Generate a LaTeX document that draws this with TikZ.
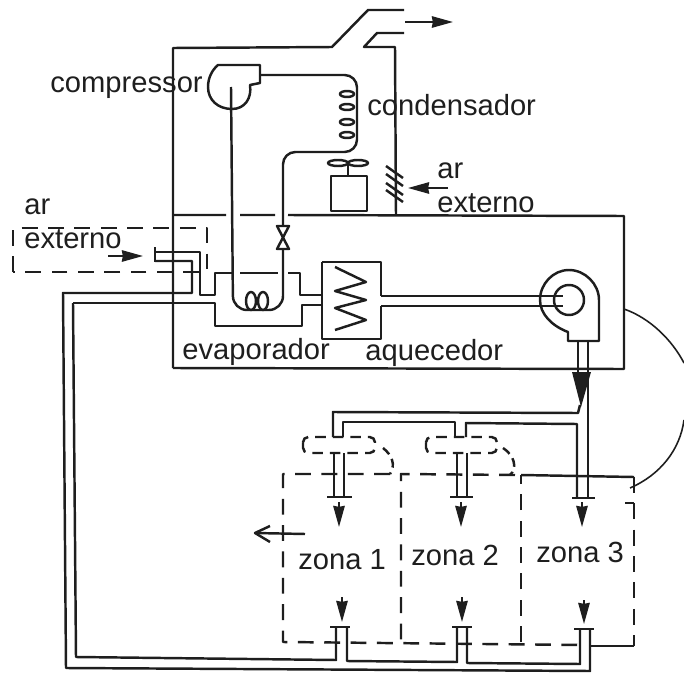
\documentclass[tikz,border=0pt]{standalone}
\usepackage{fontspec}
\setmainfont{Liberation Sans}
\usetikzlibrary{arrows.meta}
\definecolor{ink}{HTML}{1E1E1E}
\tikzset{
  ln/.style={draw=ink,line width=1.4pt,line join=round},
  thin ln/.style={draw=ink,line width=0.9pt},
  dsh/.style={ln,dash pattern=on 9pt off 6pt},
  flow/.style={draw=ink,line width=1.1pt,-{Stealth[length=12pt,width=6.5pt,inset=0.5pt]}},
  lbl/.style={anchor=base west,inner sep=0pt,text=ink,font=\fontsize{16.6pt}{18pt}\selectfont}
}
\begin{document}
\begin{tikzpicture}[x=0.02cm,y=-0.02cm]
\useasboundingbox (0,0) rectangle (684,673);
% upper enclosure
\draw[ln] (173,368) -- (173,48) -- (332,47) -- (368,10) -- (404,10);
\draw[ln] (404,33) -- (377,33) -- (364,47) -- (395,47) -- (396,215);
\draw[flow] (405,22) -- (453,22);
% middle box
\draw[ln] (173,215) -- (226,215) (240,215) -- (275,215) (288,215) -- (624,216) -- (624,369) -- (173,368);
% compressor
\draw[ln] (260,65) -- (218,65) .. controls (212,70) and (208,78) .. (208,87) .. controls (208,100) and (218,109) .. (232,109) .. controls (245,109) and (252,98) .. (250,85) -- (260,83) -- cycle;
\draw[ln,rounded corners=7pt] (260,75) -- (357,75) -- (357,152) -- (283,152) -- (283,226);
\foreach \yy in {94,107,122,135}{\draw[ln] (347,\yy) ellipse[x radius=7,y radius=3];}
% fan and box
\draw[ln] (338,163) ellipse[x radius=10,y radius=3] (358,163) ellipse[x radius=10,y radius=3];
\draw[ln] (348,163) -- (348,176);
\draw[ln] (331,176) rectangle (367,211);
% hatch
\foreach \yy in {166,174,183,190}{\draw[ln] (386,\yy) -- (403,\yy+12);}
\draw[flow] (448,188) -- (408,188);
% evaporator tube
\draw[ln,rounded corners=8pt] (231,87) -- (233,310) -- (283,310) -- (283,249);
\draw[ln] (277,226) -- (289,226) -- (277,249) -- (289,249) -- cycle;
\draw[ln] (251,301) ellipse[x radius=5,y radius=9] (263,301) ellipse[x radius=5,y radius=9];
% left dashed box and inlet
\draw[dsh] (13,272) -- (13,228) -- (207,228) -- (207,272) -- cycle;
\draw[flow] (108,256) -- (143,256);
\draw[ln] (155,247) -- (155,262);
\draw[ln] (155,252) -- (200,252) -- (200,295) -- (215,295) -- (215,273) -- (233,273) (240,273) -- (278,273) (288,273) -- (300,273) -- (300,295) -- (322,295) -- (322,263);
\draw[ln] (155,261) -- (192,261) -- (192,293) -- (63,293) -- (66,668) -- (590,671) -- (590,630);
\draw[ln] (73,303) -- (215,303) -- (215,326) -- (302,326) -- (302,305) -- (322,305) -- (322,338);
\draw[ln] (73,303) -- (76,657) -- (336,660) -- (336,628);
\draw[ln] (347,628) -- (347,661) -- (457,662) -- (457,628);
\draw[ln] (467,628) -- (467,663) -- (580,664) -- (580,630);
% heater
\draw[ln] (322,262) -- (381,262) -- (381,296) (381,306) -- (381,339) -- (322,339) -- (322,262);
\draw[ln] (335,267) -- (366,282) -- (335,291) -- (366,300) -- (335,308) -- (366,320) -- (335,330);
\draw[ln] (381,296) -- (563,296) (381,306) -- (563,306);
% blower
\draw[ln] (569,300) circle[radius=15];
\draw[ln] (599,341) -- (568,341) -- (568,332) .. controls (552,326) and (540,314) .. (540,300) .. controls (540,284) and (553,270) .. (569,270) .. controls (585,270) and (599,284) .. (599,300) -- cycle;
% outlet and distribution
\draw[ln] (578,342) -- (578,375) (588,342) -- (588,497);
\fill[ink] (572,372) -- (591,372) -- (581,407) -- cycle;
\draw[ln] (333,437) -- (333,412) -- (578,413) -- (580,405);
\draw[ln] (343,437) -- (343,422) -- (455,422) -- (455,437);
\draw[ln] (466,437) -- (466,423) -- (577,424) -- (577,497);
\draw[ln] (572,498) -- (595,498) (450,497) -- (473,497) (327,497) -- (352,497);
\draw[ln] (334,453) -- (334,497) (344,453) -- (344,497) (457,453) -- (457,497) (467,453) -- (467,497);
\draw[dsh,rounded corners=3pt,dash pattern=on 6pt off 4pt] (303,437) rectangle (375,453);
\draw[dsh,rounded corners=3pt,dash pattern=on 6pt off 4pt] (426,437) rectangle (497,453);
\draw[dsh,dash pattern=on 5pt off 3pt] (383,448) .. controls (392,455) and (396,465) .. (390,474);
\draw[dsh,dash pattern=on 5pt off 3pt] (503,448) .. controls (514,455) and (518,468) .. (510,475);
% zones
\draw[dsh] (390,474) -- (283,474) -- (283,642) -- (585,645);
\draw[dsh] (515,475) -- (401,474) -- (401,642);
\draw[dsh] (521,642) -- (521,475);
\draw[ln] (521,475) -- (634,477);
\draw[dsh] (634,477) -- (634,646);
\draw[ln] (634,646) -- (590,646);
\draw[ln] (625,503) -- (634,503);
\draw[thin ln] (624,309) .. controls (650,318) and (672,340) .. (684,363);
\draw[thin ln] (684,420) .. controls (680,450) and (660,475) .. (630,488);
% return arrow
\draw[ln] (305,534) -- (255,533);
\draw[ln] (270,526) -- (255,533) -- (270,542);
% flow arrows
\draw[flow] (339,502) -- (339,527);
\draw[flow] (461,502) -- (461,527);
\draw[flow] (582,502) -- (582,527);
\draw[flow] (342,597) -- (342,622);
\draw[flow] (462,597) -- (462,622);
\draw[flow] (584,600) -- (584,624);
\draw[ln] (330,627) -- (350,627) (452,627) -- (472,627) (574,629) -- (594,629);
% labels
\node[lbl] (compressor) at (50,92) {compressor};
\node[lbl] (condensador) at (367,115) {condensador};
\node[lbl] (ar1) at (437,178) {ar};
\node[lbl] (ext1) at (437,212) {externo};
\node[lbl] (ar2) at (24,214) {ar};
\node[lbl] (ext2) at (24,248) {externo};
\node[lbl] (evap) at (182,359) {evaporador};
\node[lbl] (aquec) at (365,360) {aquecedor};
\node[lbl] (z1) at (298,569) {zona 1};
\node[lbl] (z2) at (411,565) {zona 2};
\node[lbl] (z3) at (536,562) {zona 3};
\end{tikzpicture}
\end{document}
